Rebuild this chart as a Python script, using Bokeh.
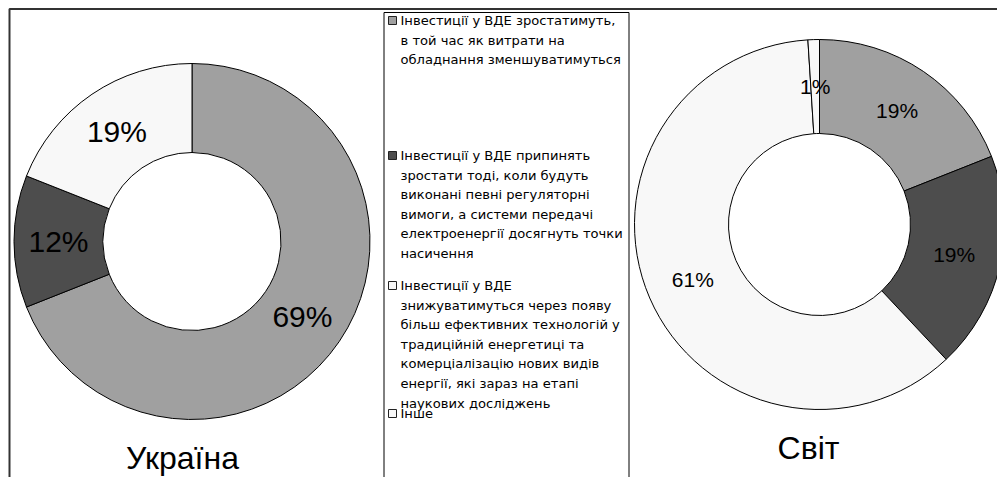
import math
from bokeh.plotting import figure
from bokeh.models import Range1d, ColumnDataSource
from bokeh.core.properties import value
from bokeh.embed import file_html
from bokeh.resources import INLINE

# ---- data ----
categories = [
    "Інвестиції у ВДЕ зростатимуть,\nв той час як витрати на\nобладнання зменшуватимуться",
    "Інвестиції у ВДЕ припинять\nзростати тоді, коли будуть\nвиконані певні регуляторні\nвимоги, а системи передачі\nелектроенергії досягнуть точки\nнасичення",
    "Інвестиції у ВДЕ\nзнижуватимуться через появу\nбільш ефективних технологій у\nтрадиційній енергетиці та\nкомерціалізацію нових видів\nенергії, які зараз на етапі\nнаукових досліджень",
    "Інше",
]
ukraine_values = [69, 12, 19, 0]
world_values = [19, 19, 61, 1]
chart_titles = ["Україна", "Світ"]

colors = ["#A0A0A0", "#4D4D4D", "#F8F8F8", "#F8F8F8"]
FONT = "Liberation Sans"
LEG_FONT = "DejaVu Sans"
W, H = 997, 477

def Y(yp):
    return H - yp

p = figure(width=W, height=H, x_range=Range1d(0, W), y_range=Range1d(0, H),
           output_backend="svg", toolbar_location=None, min_border=0,
           outline_line_color=None, background_fill_color="white")
p.axis.visible = False
p.grid.visible = False

def donut(vals, cx, cy, r_out, r_in, label_size):
    total = float(sum(vals))
    cum = 0.0
    rows = dict(x=[], y=[], s=[], e=[], c=[])
    lab = dict(x=[], y=[], t=[])
    rmid = (r_out + r_in) / 2.0
    for v, c in zip(vals, colors):
        if v <= 0:
            continue
        a0 = math.pi / 2 - 2 * math.pi * cum / total
        cum += v
        a1 = math.pi / 2 - 2 * math.pi * cum / total
        rows["x"].append(cx); rows["y"].append(Y(cy))
        rows["s"].append(a0); rows["e"].append(a1); rows["c"].append(c)
        am = (a0 + a1) / 2
        lab["x"].append(cx + rmid * math.cos(am))
        lab["y"].append(Y(cy) + rmid * math.sin(am))
        lab["t"].append(f"{v}%")
    p.annular_wedge(x="x", y="y", inner_radius=r_in, outer_radius=r_out,
                    start_angle="s", end_angle="e", direction="clock",
                    fill_color="c", line_color="black", line_width=1,
                    source=ColumnDataSource(rows))
    p.text(x="x", y="y", text="t", source=ColumnDataSource(lab),
           text_font=value(FONT), text_font_size=f"{label_size}px",
           text_align="center", text_baseline="middle", text_color="black")

donut(ukraine_values, 191.5, 241, 178, 89, 30)
donut(world_values, 819, 224, 185, 91, 21)

# titles
p.text(x=[182, 808], y=[Y(457), Y(447)], text=chart_titles,
       text_font=value(FONT), text_font_size="32px",
       text_align="center", text_baseline="middle", text_color="black")

# outer frame
p.line(x=[9, 9, W], y=[Y(H + 5), Y(8.5), Y(8.5)], line_color="#333333", line_width=2)
# legend box
p.line(x=[383.5, 383.5, 628.5, 628.5], y=[Y(H + 5), Y(12), Y(12), Y(H + 5)],
       line_color="black", line_width=1)

# legend
item_y = [20, 155, 285, 413]
line_step = 19.6
mx, my = [], []
tx, ty, tt = [], [], []
for lbl, y0 in zip(categories, item_y):
    mx.append(392); my.append(Y(y0))
    for i, ln in enumerate(lbl.split("\n")):
        tx.append(400); ty.append(Y(y0 + i * line_step)); tt.append(ln)
p.scatter(x=mx, y=my, marker="square", size=8, fill_color=colors,
          line_color="#222222", line_width=1)
p.text(x=tx, y=ty, text=tt, text_font=value(LEG_FONT), text_font_size="13.1px",
       text_align="left", text_baseline="middle", text_color="black")

open("out.html", "w").write(file_html(p, INLINE))
